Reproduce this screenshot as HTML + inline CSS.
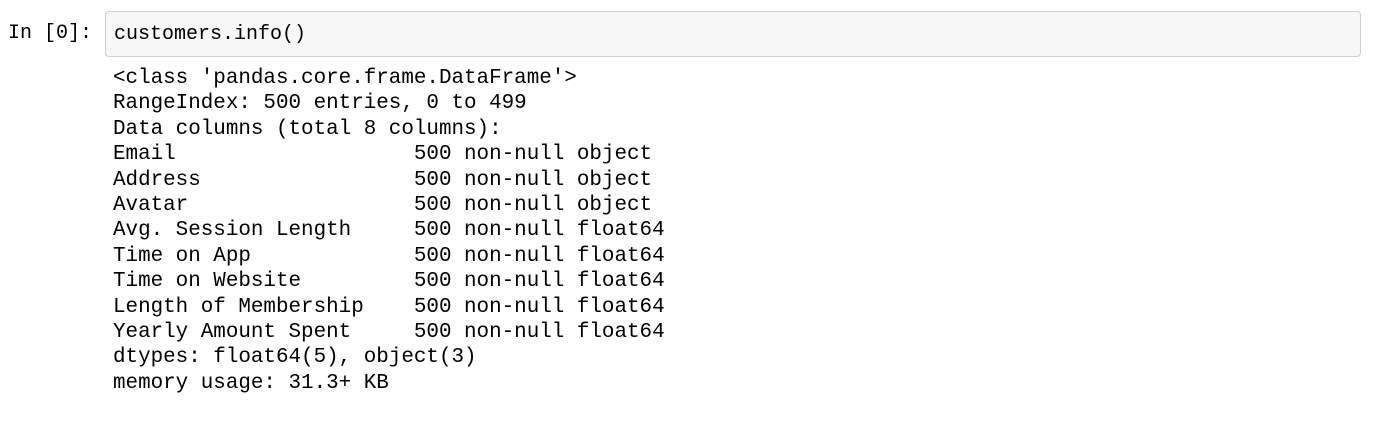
<!DOCTYPE html>
<html><head><style>
body{margin:0;width:1400px;height:428px;background:#fff;position:relative;overflow:hidden;font-family:"Liberation Mono",monospace;font-size:20.9px;color:#000}
.p{position:absolute;left:8px;top:21px;line-height:25px;font-size:20px}
.box{position:absolute;left:105px;top:11px;width:1254px;height:44px;background:#f7f7f7;border:1px solid #cfcfcf;border-radius:4px}
.in{position:absolute;left:8px;top:10px;line-height:25px;white-space:pre;font-size:20px}
pre{position:absolute;left:113px;top:66px;margin:0;font:inherit;line-height:25.4px}
</style></head><body>
<div class="p">In [0]:</div>
<div class="box"><div class="in">customers.info()</div></div>
<pre>&lt;class 'pandas.core.frame.DataFrame'&gt;
RangeIndex: 500 entries, 0 to 499
Data columns (total 8 columns):
Email                   500 non-null object
Address                 500 non-null object
Avatar                  500 non-null object
Avg. Session Length     500 non-null float64
Time on App             500 non-null float64
Time on Website         500 non-null float64
Length of Membership    500 non-null float64
Yearly Amount Spent     500 non-null float64
dtypes: float64(5), object(3)
memory usage: 31.3+ KB</pre>
</body></html>
